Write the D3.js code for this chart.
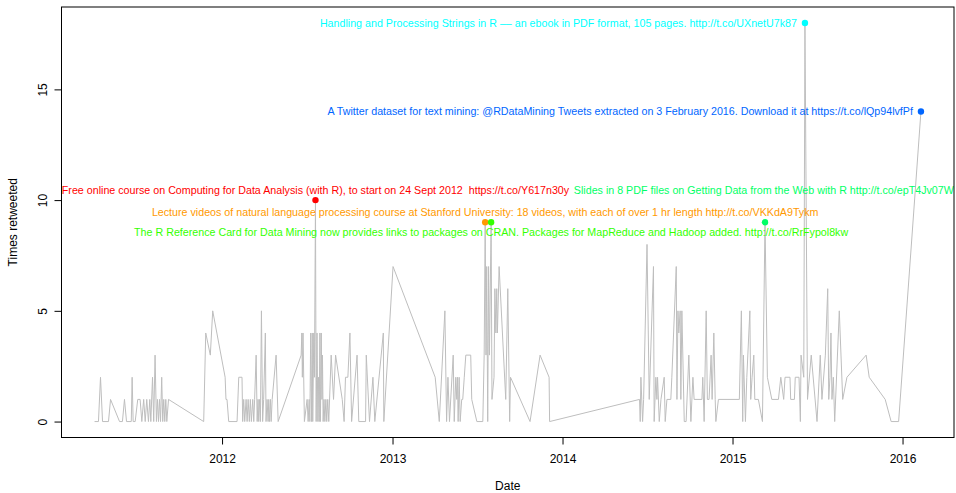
<!DOCTYPE html>
<html>
<head>
<meta charset="utf-8">
<script src="https://cdn.jsdelivr.net/npm/d3@7"></script>
<style>
  html, body { margin: 0; padding: 0; background: #fff; }
  svg { display: block; font-family: "Liberation Sans", Arial, Helvetica, sans-serif; }
  text { white-space: pre; }
</style>
</head>
<body>
<svg id="chart" width="956" height="493"></svg>
<script>
// ---- data: tweet dates (decimal years) and times retweeted ----
const tweetDates = [
  2011.250, 2011.273, 2011.285, 2011.297, 2011.332, 2011.344, 2011.397, 2011.414, 2011.426, 2011.438,
  2011.466, 2011.471, 2011.477, 2011.489, 2011.504, 2011.518, 2011.528, 2011.539, 2011.548, 2011.557,
  2011.567, 2011.575, 2011.581, 2011.591, 2011.598, 2011.606, 2011.614, 2011.620, 2011.626, 2011.632,
  2011.638, 2011.645, 2011.651, 2011.657, 2011.663, 2011.669, 2011.675, 2011.685, 2011.892, 2011.904,
  2011.931, 2011.945, 2012.018, 2012.023, 2012.029, 2012.039,
  2012.088, 2012.098, 2012.117, 2012.121, 2012.127, 2012.133, 2012.141, 2012.147, 2012.153, 2012.160,
  2012.166, 2012.172, 2012.180, 2012.186, 2012.191, 2012.200, 2012.206, 2012.211, 2012.215, 2012.219,
  2012.225, 2012.231, 2012.238, 2012.244, 2012.254, 2012.258, 2012.264, 2012.270, 2012.274, 2012.278,
  2012.284, 2012.288, 2012.294, 2012.317, 2012.329, 2012.464, 2012.468, 2012.471, 2012.475, 2012.483,
  2012.499, 2012.505, 2012.511, 2012.515, 2012.520, 2012.525, 2012.529, 2012.532, 2012.538, 2012.542,
  2012.548, 2012.552, 2012.557, 2012.562, 2012.566, 2012.570, 2012.574, 2012.577, 2012.582, 2012.586,
  2012.589, 2012.593, 2012.598, 2012.603, 2012.609, 2012.614, 2012.620, 2012.626, 2012.640, 2012.654,
  2012.666, 2012.705, 2012.716, 2012.724, 2012.738, 2012.750, 2012.760, 2012.792, 2012.802, 2012.842,
  2012.846, 2012.865, 2012.885, 2012.896, 2012.946, 2012.949, 2013.003,
  2013.251, 2013.275, 2013.308, 2013.318, 2013.326, 2013.335, 2013.357, 2013.363, 2013.372, 2013.378,
  2013.382, 2013.386, 2013.392, 2013.398, 2013.407, 2013.413, 2013.422, 2013.431, 2013.460, 2013.466,
  2013.496, 2013.531, 2013.539, 2013.545, 2013.550, 2013.554, 2013.560, 2013.565, 2013.570, 2013.580,
  2013.585, 2013.597, 2013.602, 2013.608, 2013.613, 2013.617, 2013.627, 2013.666, 2013.678, 2013.689,
  2013.694, 2013.809, 2013.868, 2013.921, 2013.924, 2014.453,
  2014.457, 2014.461, 2014.471, 2014.477, 2014.497, 2014.510, 2014.535, 2014.539, 2014.549, 2014.555,
  2014.559, 2014.569, 2014.579, 2014.598, 2014.604, 2014.614, 2014.637, 2014.643, 2014.669, 2014.673,
  2014.679, 2014.684, 2014.692, 2014.696, 2014.702, 2014.716, 2014.727, 2014.743, 2014.755, 2014.767,
  2014.774, 2014.820, 2014.825, 2014.833, 2014.845, 2014.852, 2014.862, 2014.874, 2014.880, 2014.890,
  2014.898, 2014.902, 2014.917, 2015.040, 2015.052, 2015.060, 2015.064, 2015.076, 2015.084, 2015.102,
  2015.107, 2015.115, 2015.125, 2015.131, 2015.152, 2015.176, 2015.191, 2015.205, 2015.231, 2015.270,
  2015.284, 2015.301, 2015.309, 2015.338, 2015.342, 2015.364, 2015.369, 2015.391, 2015.399, 2015.403,
  2015.419, 2015.426, 2015.441, 2015.463, 2015.497, 2015.516, 2015.526, 2015.546, 2015.560, 2015.566,
  2015.573, 2015.579, 2015.585, 2015.593, 2015.601, 2015.628, 2015.648, 2015.673, 2015.786, 2015.804,
  2015.898, 2015.933, 2015.977, 2016.108
];
const retweets = [
  0, 0, 2, 0, 0, 1, 0, 0, 1, 0,
  0, 2, 0, 0, 1, 1, 0, 1, 0, 1,
  0, 1, 0, 2, 0, 3, 0, 1, 0, 1,
  0, 2, 0, 1, 0, 1, 0, 1, 0, 4,
  3, 5, 2, 1, 1, 0,
  0, 2, 2, 0, 1, 0, 1, 0, 1, 0,
  1, 0, 1, 0, 1, 3, 0, 1, 0, 1,
  0, 5, 0, 1, 4, 0, 1, 0, 1, 0,
  1, 0, 1, 3, 0, 3, 4, 2, 4, 0,
  1, 0, 1, 0, 4, 0, 4, 0, 4, 2,
  10, 0, 4, 0, 2, 0, 4, 0, 4, 1,
  3, 0, 1, 0, 1, 0, 1, 0, 3, 1,
  3, 1, 0, 2, 2, 4, 0, 3, 0, 0,
  3, 0, 2, 0, 4, 0, 7,
  2, 0, 5, 0, 2, 0, 3, 0, 2, 1,
  2, 0, 2, 0, 1, 1, 2, 3, 3, 1,
  0, 0, 3, 9, 3, 7, 0, 7, 3, 9,
  1, 2, 6, 4, 6, 4, 7, 1, 6, 0,
  2, 0, 3, 2, 0, 1,
  0, 2, 0, 1, 8, 1, 7, 0, 2, 1,
  2, 0, 1, 2, 0, 1, 1, 2, 7, 1,
  5, 4, 5, 1, 5, 0, 0, 3, 0, 2,
  1, 1, 2, 0, 5, 1, 1, 3, 1, 4,
  1, 0, 1, 1, 5, 0, 3, 0, 2, 5,
  1, 2, 3, 1, 1, 0, 9, 2, 1, 1,
  2, 1, 2, 2, 1, 1, 2, 2, 0, 3,
  2, 18, 1, 3, 0, 3, 1, 3, 6, 1,
  2, 4, 1, 2, 0, 5, 1, 2, 3, 2,
  1, 0, 0, 14
];

// ---- highlighted tweets ----
const highlightDates  = [2012.548, 2013.545, 2013.580, 2015.191, 2015.426, 2016.108];
const highlightValues = [10, 9, 9, 9, 18, 14];
const highlightLabelValues = [10, 9, 9, 10, 18, 14];
const highlightPos    = [3, 3, 1, 3, 2, 2];   // R text() pos: 1 below, 2 left, 3 above
const highlightColors = ["#FF0000", "#FF9900", "#33FF00", "#00FF66", "#00FFFF", "#0066FF"];
const highlightTexts  = [
  "Free online course on Computing for Data Analysis (with R), to start on 24 Sept 2012  https://t.co/Y617n30y",
  "Lecture videos of natural language processing course at Stanford University: 18 videos, with each of over 1 hr length http://t.co/VKKdA9Tykm",
  "The R Reference Card for Data Mining now provides links to packages on CRAN. Packages for MapReduce and Hadoop added. http://t.co/RrFypol8kw",
  "Slides in 8 PDF files on Getting Data from the Web with R http://t.co/epT4Jv07Wl",
  "Handling and Processing Strings in R –– an ebook in PDF format, 105 pages. http://t.co/UXnetU7k87",
  "A Twitter dataset for text mining: @RDataMining Tweets extracted on 3 February 2016. Download it at https://t.co/lQp94lvfPf"
];

const yTicks = [0, 5, 10, 15];
const xTickYears = [2012, 2013, 2014, 2015, 2016];
const xTitle = "Date";
const yTitle = "Times retweeted";

// ---- helpers ----
function decYearToDate(y) {
  const yr = Math.floor(y);
  const start = Date.UTC(yr, 0, 1), end = Date.UTC(yr + 1, 0, 1);
  return new Date(start + (y - yr) * (end - start));
}
const data = tweetDates.map((d, i) => ({ date: decYearToDate(d), value: retweets[i] }));
const highlights = highlightDates.map((d, i) => ({
  date: decYearToDate(d), value: highlightValues[i], labelValue: highlightLabelValues[i],
  pos: highlightPos[i], color: highlightColors[i], text: highlightTexts[i]
}));

// ---- layout ----
const plot = { left: 61.5, right: 954, top: 7, bottom: 437.5 };
const svg = d3.select("#chart");

// R-style 4% domain extension
const xExt = d3.extent(data, d => +d.date);
const xPad = (xExt[1] - xExt[0]) * 0.04;
const x = d3.scaleUtc()
  .domain([new Date(xExt[0] - xPad), new Date(xExt[1] + xPad)])
  .range([plot.left, plot.right]);
const yMax = d3.max(data, d => d.value), yMin = 0;
const yPad = (yMax - yMin) * 0.04;
const y = d3.scaleLinear().domain([yMin - yPad, yMax + yPad]).range([plot.bottom, plot.top]);

svg.append("defs").append("clipPath").attr("id", "clip")
  .append("rect")
  .attr("x", plot.left).attr("y", plot.top)
  .attr("width", plot.right - plot.left).attr("height", plot.bottom - plot.top);

// line
const line = d3.line().x(d => x(d.date)).y(d => y(d.value));
svg.append("path")
  .datum(data)
  .attr("clip-path", "url(#clip)")
  .attr("fill", "none")
  .attr("stroke", "#BEBEBE")
  .attr("stroke-width", 1)
  .attr("d", line);

// labels
const g = svg.append("g").attr("clip-path", "url(#clip)");
g.selectAll("text.lab").data(highlights).enter().append("text")
  .attr("class", "lab")
  .attr("x", d => d.pos === 2 ? x(d.date) - 8 : x(d.date))
  .attr("y", d => y(d.labelValue) + (d.pos === 3 ? -10 : d.pos === 1 ? 10 : 0))
  .attr("dy", "0.35em")
  .attr("text-anchor", d => d.pos === 2 ? "end" : "middle")
  .attr("fill", d => d.color)
  .style("font-size", "10.7px")
  .text(d => d.text);

// points
svg.selectAll("circle.pt").data(highlights).enter().append("circle")
  .attr("class", "pt")
  .attr("cx", d => x(d.date))
  .attr("cy", d => y(d.value))
  .attr("r", 3.2)
  .attr("fill", d => d.color);

// box
svg.append("rect")
  .attr("x", plot.left).attr("y", plot.top)
  .attr("width", plot.right - plot.left).attr("height", plot.bottom - plot.top)
  .attr("fill", "none").attr("stroke", "#000").attr("stroke-width", 1);

// x axis
const xTicks = xTickYears.map(yr => new Date(Date.UTC(yr, 0, 1)));
const xAxis = d3.axisBottom(x).tickValues(xTicks).tickFormat(d3.utcFormat("%Y"))
  .tickSizeInner(7).tickSizeOuter(0).tickPadding(10);
const gx = svg.append("g").attr("transform", `translate(0,${plot.bottom})`).call(xAxis);
gx.select(".domain").attr("d", `M${x(xTicks[0])},0H${x(xTicks[xTicks.length - 1])}`);
gx.selectAll("text").style("font-size", "12px").style("font-family", "Liberation Sans, Arial, sans-serif").attr("fill", "#000");

// y axis
const yAxis = d3.axisLeft(y).tickValues(yTicks).tickFormat(d3.format("d"))
  .tickSizeInner(7).tickSizeOuter(0).tickPadding(0);
const gy = svg.append("g").attr("transform", `translate(${plot.left},0)`).call(yAxis);
gy.select(".domain").attr("d", `M0,${y(yTicks[0])}V${y(yTicks[yTicks.length - 1])}`);
gy.selectAll(".tick text")
  .attr("x", null).attr("dy", null)
  .attr("text-anchor", "middle")
  .attr("transform", "translate(-19,0) rotate(-90)")
  .attr("y", 0)
  .attr("dy", "0.35em")
  .attr("fill", "#000")
  .style("font-size", "12px").style("font-family", "Liberation Sans, Arial, sans-serif");

// titles
svg.append("text")
  .attr("x", (plot.left + plot.right) / 2).attr("y", 486).attr("dy", "0.35em")
  .attr("text-anchor", "middle").style("font-size", "12px").text(xTitle);
svg.append("text")
  .attr("transform", `translate(13,${(plot.top + plot.bottom) / 2}) rotate(-90)`)
  .attr("dy", "0.35em")
  .attr("text-anchor", "middle").style("font-size", "12px").text(yTitle);
</script>
</body>
</html>
